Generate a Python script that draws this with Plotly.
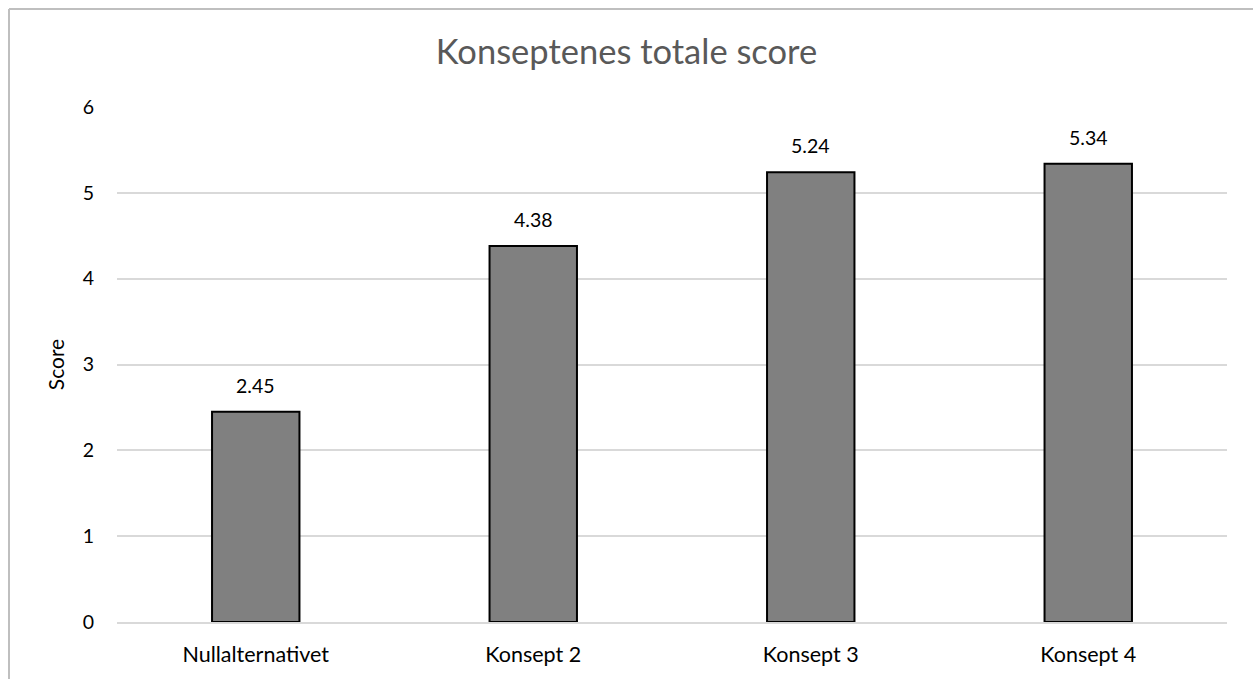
import plotly.graph_objects as go

# Total score per concept
concepts = ["Nullalternativet", "Konsept 2", "Konsept 3", "Konsept 4"]
scores = [2.45, 4.38, 5.24, 5.34]
score_labels = ["2.45", "4.38", "5.24", "5.34"]
y_ticks = [0, 1, 2, 3, 4, 5, 6]

FONT = "Lato, Carlito, Calibri, sans-serif"
W, H = 1253, 679
L, R, T, B = 117, 26, 107, 57
pw, ph = W - L - R, H - T - B

fig = go.Figure(
    go.Bar(
        x=concepts,
        y=scores,
        marker=dict(color="#808080", line=dict(color="#000000", width=2)),
        width=0.315,
        hoverinfo="x+y",
    )
)

# value labels above each bar
for c, v, s in zip(concepts, scores, score_labels):
    fig.add_annotation(
        x=c, y=v, text=s, showarrow=False,
        xanchor="center", yanchor="bottom", yshift=13,
        font=dict(family=FONT, size=19.5, color="#000000"),
    )

# chart frame (top and left edges visible)
def px_x(p):
    return (p - L) / pw

def px_y(p):
    return (H - B - p) / ph

fig.add_shape(type="line", xref="paper", yref="paper",
              x0=px_x(9), x1=px_x(1300), y0=px_y(9), y1=px_y(9),
              line=dict(color="#bfbfbf", width=2))
fig.add_shape(type="line", xref="paper", yref="paper",
              x0=px_x(9), x1=px_x(9), y0=px_y(9), y1=px_y(700),
              line=dict(color="#bfbfbf", width=2))

fig.update_layout(
    width=W,
    height=H,
    margin=dict(l=L, r=R, t=T, b=B),
    paper_bgcolor="#ffffff",
    plot_bgcolor="#ffffff",
    showlegend=False,
    title=dict(
        text="Konseptenes totale score",
        font=dict(family=FONT, size=34.5, color="#595959"),
        x=0.5,
        xanchor="center",
        y=1 - 52 / H,
        yanchor="middle",
    ),
    font=dict(family=FONT, size=20, color="#000000"),
    xaxis=dict(
        showgrid=False,
        showline=True,
        linecolor="#d9d9d9",
        linewidth=2,
        ticks="",
        ticklabelstandoff=12,
        tickfont=dict(family=FONT, size=21.5, color="#000000"),
    ),
    yaxis=dict(
        range=[0, 6],
        tickvals=y_ticks,
        showgrid=True,
        gridcolor="#d9d9d9",
        gridwidth=2,
        zeroline=False,
        showline=False,
        ticks="",
        ticklabelstandoff=22,
        tickfont=dict(family=FONT, size=19.5, color="#000000"),
        title=dict(text="Score", font=dict(family=FONT, size=21, color="#000000"), standoff=12),
    ),
)

fig.write_html("out.html")
